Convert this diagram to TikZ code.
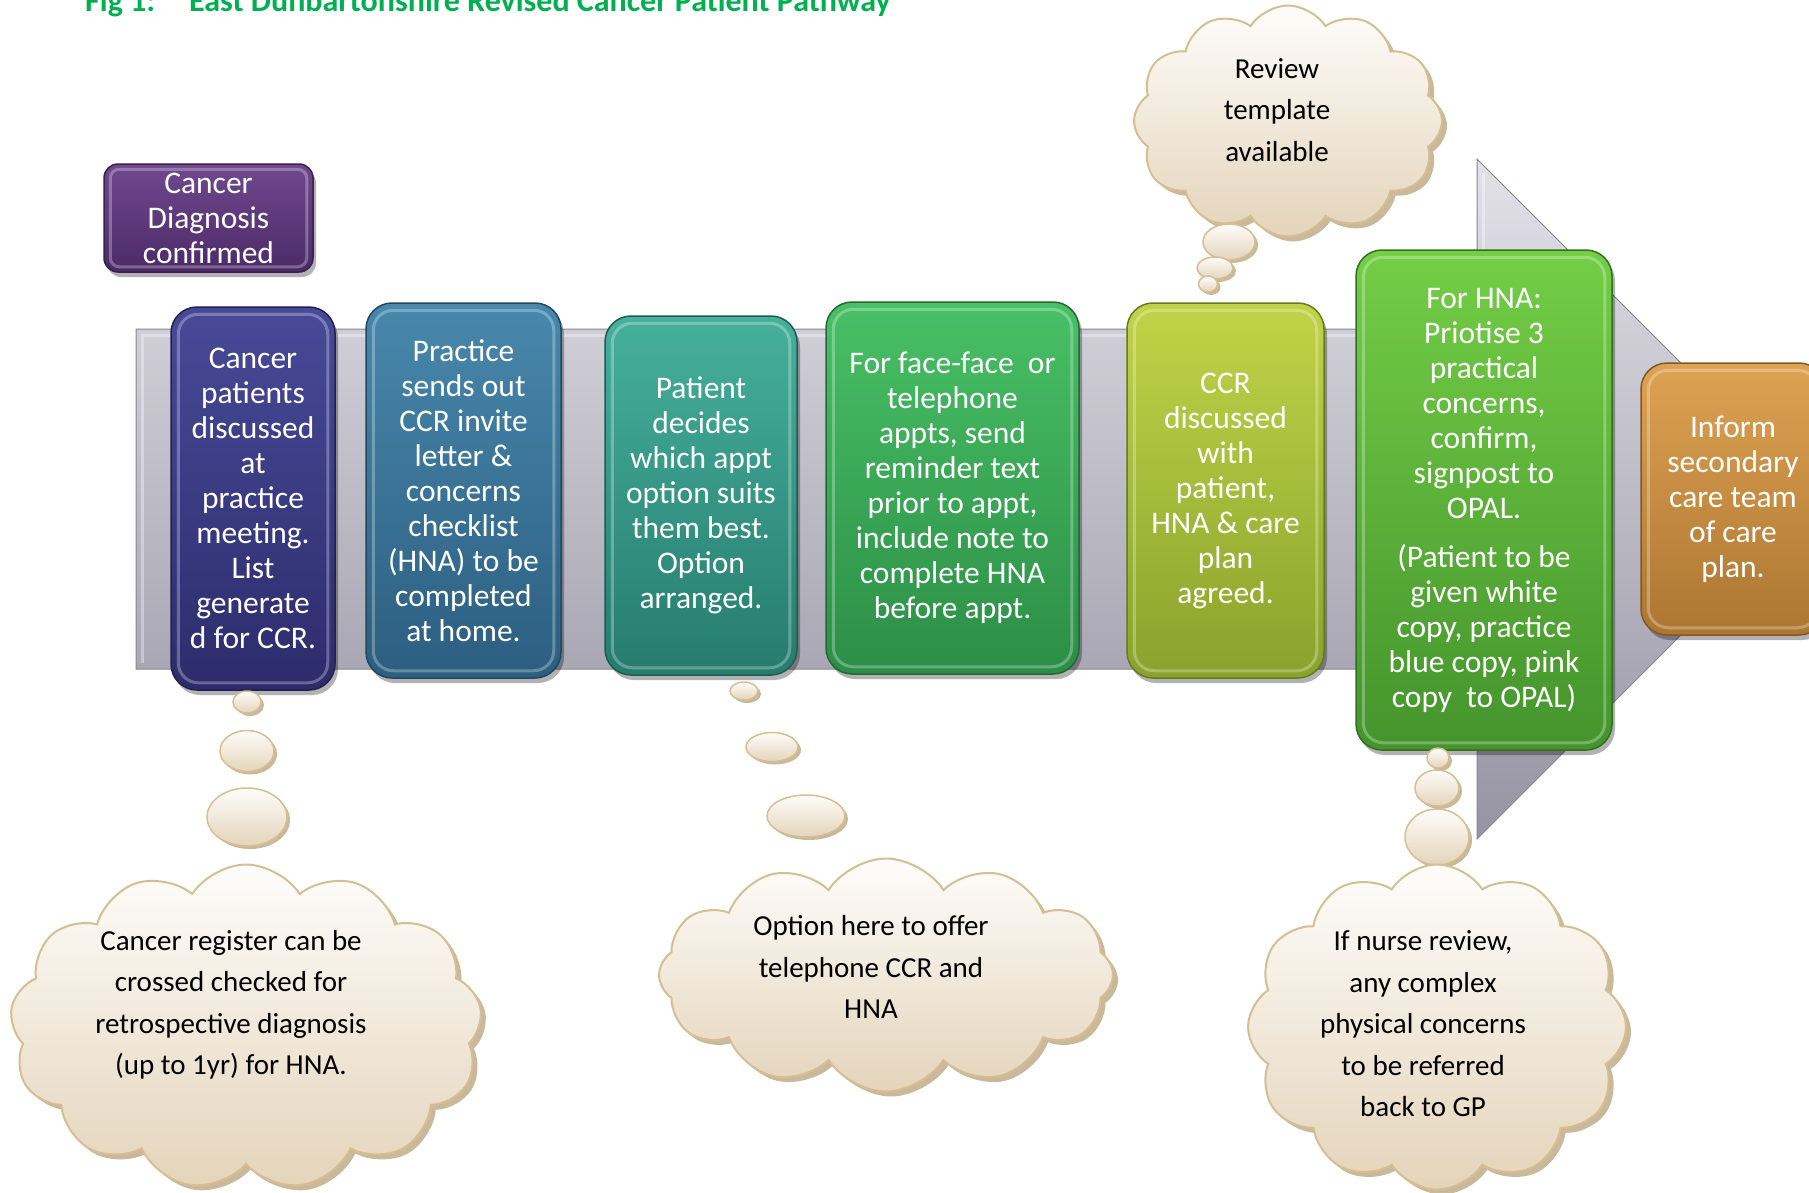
\documentclass[tikz,border=0pt]{standalone}
\usepackage{fontspec}
\setmainfont{Carlito}
\usetikzlibrary{shapes.geometric,shapes.symbols,shadows}
\definecolor{titlegreen}{RGB}{0,176,80}
\definecolor{arrowtop}{RGB}{226,225,232}
\definecolor{arrowbot}{RGB}{150,148,162}
\definecolor{cloudtop}{RGB}{254,253,251}
\definecolor{cloudbot}{RGB}{228,212,186}
\definecolor{cloudline}{RGB}{214,190,146}
\definecolor{cloudshadow}{RGB}{196,176,144}
\definecolor{pA}{RGB}{112,72,142}\definecolor{pB}{RGB}{76,42,104}
\definecolor{iA}{RGB}{72,74,152}\definecolor{iB}{RGB}{44,44,108}
\definecolor{sA}{RGB}{72,136,172}\definecolor{sB}{RGB}{44,94,128}
\definecolor{tA}{RGB}{70,176,156}\definecolor{tB}{RGB}{38,124,110}
\definecolor{gA}{RGB}{72,192,102}\definecolor{gB}{RGB}{44,142,70}
\definecolor{yA}{RGB}{192,212,72}\definecolor{yB}{RGB}{138,162,44}
\definecolor{lA}{RGB}{116,206,70}\definecolor{lB}{RGB}{68,148,44}
\definecolor{oA}{RGB}{222,162,82}\definecolor{oB}{RGB}{172,118,50}
\begin{document}
\begin{tikzpicture}[x=1pt,y=-1pt,
  boxtext/.style={font=\fontsize{31.5}{35}\selectfont, text=white, align=center},
  stepbox/.style 2 args={rectangle, rounded corners=26pt, inner sep=0pt, top color=#1, bottom color=#2, draw=#2!75!black, line width=1.5pt, drop shadow={shadow xshift=3pt, shadow yshift=-5pt, fill=black, opacity=0.3}, boxtext},
  bevel/.style={draw=white, opacity=0.28, line width=3pt, rounded corners=20pt},
  cloudsty/.style={cloud, cloud puffs=#1, cloud puff arc=115, cloud ignores aspect, draw=cloudline, line width=2pt, top color=cloudtop, bottom color=cloudbot, inner sep=0pt, drop shadow={shadow xshift=5pt, shadow yshift=-5pt, fill=cloudshadow, opacity=0.9}},
  bubble/.style={ellipse, draw=cloudline, line width=1.5pt, top color=cloudtop, bottom color=cloudbot, inner sep=0pt, drop shadow={shadow xshift=3pt, shadow yshift=-3pt, fill=cloudshadow, opacity=0.9}},
  cloudtext/.style={font=\fontsize{29}{41.5}\selectfont, text=black, align=center, inner sep=0pt}
]
\useasboundingbox (0,0) rectangle (1809,1192);

% title
\node[anchor=base west, inner sep=0pt, text=titlegreen, font=\fontsize{32}{38}\selectfont\bfseries] (title) at (85,11) {Fig 1:\hspace{34pt}East Dunbartonshire Revised Cancer Patient Pathway};

% big arrow
\shade[top color=arrowtop, bottom color=arrowbot, draw=arrowbot!90!black, line width=1pt]
  (136,329) -- (1477,329) -- (1477,159) -- (1817,499) -- (1477,839) -- (1477,669) -- (136,669) -- cycle;
\draw[draw=white, opacity=0.35, line width=3pt] (142,663) -- (142,335) -- (1483,335) -- (1483,173);

% boxes
\node[stepbox={pA}{pB}, rounded corners=14pt, minimum width=209pt, minimum height=108pt] (b0) at (208.5,218) {Cancer\\Diagnosis\\confirmed};
\node[stepbox={iA}{iB}, minimum width=164pt, minimum height=383pt] (b1) at (253,498.5) {Cancer\\patients\\discussed\\at\\practice\\meeting.\\List\\generate\\d for CCR.};
\node[stepbox={sA}{sB}, minimum width=195pt, minimum height=375pt] (b2) at (463.5,490.5) {Practice\\sends out\\CCR invite\\letter \&\\concerns\\checklist\\(HNA) to be\\completed\\at home.};
\node[stepbox={tA}{tB}, minimum width=192pt, minimum height=359pt] (b3) at (701,495.5) {Patient\\decides\\which appt\\option suits\\them best.\\Option\\arranged.};
\node[stepbox={gA}{gB}, minimum width=253pt, minimum height=372pt] (b4) at (952.5,488) {For face-face~ or\\telephone\\appts, send\\reminder text\\prior to appt,\\include note to\\complete HNA\\before appt.};
\node[stepbox={yA}{yB}, minimum width=197pt, minimum height=375pt] (b5) at (1225.5,490.5) {CCR\\discussed\\with\\patient,\\HNA \& care\\plan\\agreed.};
\node[stepbox={lA}{lB}, minimum width=256pt, minimum height=500pt] (b6) at (1484,500) {For HNA:\\Priotise 3\\practical\\concerns,\\confirm,\\signpost to\\OPAL.\\[14pt](Patient to be\\given white\\copy, practice\\blue copy, pink\\copy~ to OPAL)};
\node[stepbox={oA}{oB}, minimum width=184pt, minimum height=272pt] (b7) at (1733,499) {Inform\\secondary\\care team\\of care\\plan.};

\draw[bevel, rounded corners=9pt] ([shift={(7pt,-6pt)}]b0.north west) rectangle ([shift={(-7pt,6pt)}]b0.south east);
\foreach \n in {b1,b2,b3,b4,b5,b6,b7}
  \draw[bevel] ([shift={(8pt,-8pt)}]\n.north west) rectangle ([shift={(-8pt,8pt)}]\n.south east);

% top cloud
\node[cloudsty=12, minimum width=308pt, minimum height=231pt] (ctop) at (1288,121) {};
\node[cloudtext] (ttop) at (1277,110) {Review\\template\\available};
\node[bubble, minimum width=52pt, minimum height=36pt] (tb1) at (1229,242) {};
\node[bubble, minimum width=36pt, minimum height=22pt] (tb2) at (1215,268) {};
\node[bubble, minimum width=19pt, minimum height=16pt] (tb3) at (1208,284) {};

% bottom-left cloud
\node[bubble, minimum width=28pt, minimum height=22pt] (lb1) at (247,702) {};
\node[bubble, minimum width=54pt, minimum height=41pt] (lb2) at (247,751) {};
\node[bubble, minimum width=80pt, minimum height=58pt] (lb3) at (247,817) {};
\node[cloudsty=13, minimum width=472pt, minimum height=325pt] (cbl) at (246,1027) {};
\node[cloudtext] (tbl) at (231,1005) {Cancer register can be\\crossed checked for\\retrospective diagnosis\\(up to 1yr) for HNA.};

% middle cloud
\node[bubble, minimum width=28pt, minimum height=18pt] (mb1) at (744,691) {};
\node[bubble, minimum width=52pt, minimum height=29pt] (mb2) at (772,747) {};
\node[bubble, minimum width=78pt, minimum height=42pt] (mb3) at (806,816) {};
\node[cloudsty=12, minimum width=454pt, minimum height=233pt] (cmid) at (886,975) {};
\node[cloudtext] (tmid) at (871,967) {Option here to offer\\telephone CCR and\\HNA};

% bottom-right cloud
\node[bubble, minimum width=22pt, minimum height=20pt] (rb1) at (1438,758) {};
\node[bubble, minimum width=44pt, minimum height=36pt] (rb2) at (1437,788) {};
\node[bubble, minimum width=64pt, minimum height=56pt] (rb3) at (1437,837) {};
\node[cloudsty=12, minimum width=378pt, minimum height=325pt] (cbr) at (1437,1027) {};
\node[cloudtext] (tbr) at (1423,1024) {If nurse review,\\any complex\\physical concerns\\to be referred\\back to GP};
\end{tikzpicture}
\end{document}
